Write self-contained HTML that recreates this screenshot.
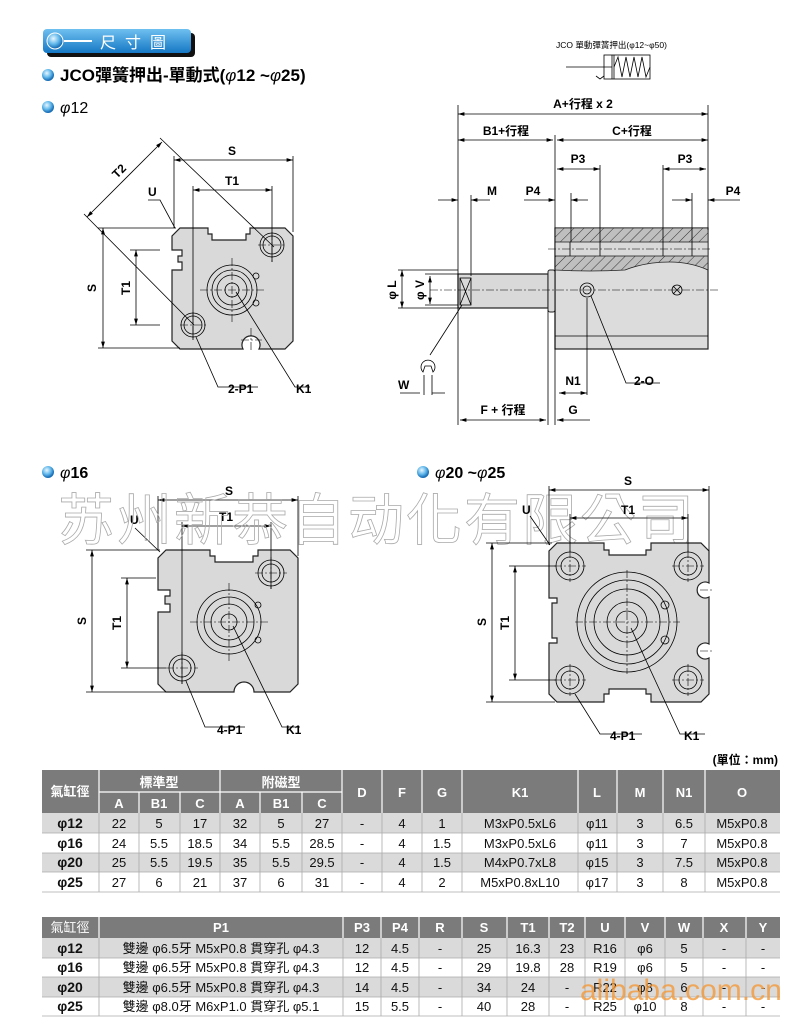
<!DOCTYPE html>
<html><head><meta charset="utf-8"><style>
body{margin:0;background:#fff;width:810px;height:1024px;overflow:hidden}
svg{display:block}
text{font-family:"Liberation Sans","Noto Sans CJK TC",sans-serif}
.b{font-weight:bold;font-size:12px}
.ln{stroke:#000;stroke-width:0.8;fill:none}
.cl{stroke:#000;stroke-width:0.6;fill:none;stroke-dasharray:8 2 2 2}
.pl{fill:#d9d9d9;stroke:#222;stroke-width:1.2}
.th{fill:#fff;font-weight:bold;font-size:13px}
.td{fill:#111;font-size:13px}
</style></head><body>
<svg width="810" height="1024" viewBox="0 0 810 1024" xmlns="http://www.w3.org/2000/svg">
<defs>
<linearGradient id="bg" x1="0" y1="0" x2="0" y2="1"><stop offset="0" stop-color="#6fc0f0"/><stop offset="1" stop-color="#1577c4"/></linearGradient>
<radialGradient id="bl" cx="0.4" cy="0.35" r="0.6"><stop offset="0" stop-color="#e8f7ff"/><stop offset="0.6" stop-color="#5fb6ea"/><stop offset="1" stop-color="#1a6fb6"/></radialGradient>
<marker id="ar" viewBox="0 0 10 6" refX="10" refY="3" markerWidth="8" markerHeight="5" orient="auto-start-reverse"><path d="M0,0 L10,3 L0,6 z" fill="#000"/></marker>
<pattern id="hat" width="7" height="7" patternUnits="userSpaceOnUse" patternTransform="rotate(45)"><rect width="7" height="7" fill="#bfbfbf"/><line x1="0" y1="0" x2="0" y2="7" stroke="#333" stroke-width="1"/></pattern>
</defs>

<rect x="47" y="33" width="148" height="24" rx="4" fill="#111"/>
<rect x="43" y="29" width="148" height="24" rx="4" fill="url(#bg)"/>
<circle cx="55" cy="41" r="8" fill="url(#bl)" stroke="#fff" stroke-width="1"/>
<line x1="64" y1="41" x2="92" y2="41" stroke="#fff" stroke-width="2"/>
<text x="100" y="48" fill="#fff" font-size="16" letter-spacing="9">尺寸圖</text>
<circle cx="48" cy="75" r="6" fill="url(#bl)"/>
<text x="60" y="81" font-size="17" font-weight="bold">JCO彈簧押出-單動式(<tspan font-weight="normal" font-style="italic">φ</tspan>12 ~<tspan font-weight="normal" font-style="italic">φ</tspan>25)</text>
<circle cx="48" cy="107" r="6" fill="url(#bl)"/>
<text x="60" y="113" font-size="16"><tspan font-style="italic">φ</tspan>12</text>

<text x="556" y="48" font-size="8.5">JCO 單動彈簧押出(φ12~φ50)</text>
<rect x="604" y="55" width="46" height="24" class="ln"/>
<line x1="612" y1="55" x2="612" y2="79" class="ln"/><line x1="614" y1="55" x2="614" y2="79" class="ln"/>
<line x1="566" y1="67" x2="612" y2="67" class="ln"/>
<path d="M614,67 L618,57 L622,77 L626,57 L630,77 L634,57 L638,77 L642,57 L646,77 L650,67" class="ln"/>
<path d="M596,76 l4,3 l4,-3" class="ln"/>

<path class="pl" d="M180,228 H208 V234 H212 V240 H246 V234 H250 V228 H285 L293,236 V341 L285,349 H259 A9,9 0 1 0 243,349 H180 L172,341 V270 H182 V262 H178 V256 H182 V250 H172 V236 Z"/>
<circle cx="272" cy="245" r="12" class="ln"/><circle cx="272" cy="245" r="9" class="ln"/>
<circle cx="193" cy="325" r="12" class="ln"/><circle cx="193" cy="325" r="9" class="ln"/>
<circle cx="232" cy="290" r="25" class="ln"/><circle cx="232" cy="290" r="20" class="ln"/><circle cx="232" cy="290" r="15" class="ln"/><circle cx="232" cy="290" r="7" class="ln"/>
<circle cx="256" cy="276" r="3" class="ln"/><circle cx="256" cy="303" r="3" class="ln"/>
<path class="cl" d="M200,290 H264 M232,258 V322 M258,245 H286 M272,232 V262 M180,325 H208 M193,312 V340 M241,340 H262 M251,328 V350"/>
<line x1="174" y1="160" x2="293" y2="160" class="ln" marker-start="url(#ar)" marker-end="url(#ar)"/>
<path class="ln" d="M174,156 V228 M293,156 V232"/>
<text x="232" y="155" class="b" text-anchor="middle">S</text>
<line x1="193" y1="190" x2="272" y2="190" class="ln" marker-start="url(#ar)" marker-end="url(#ar)"/>
<path class="ln" d="M193,186 V340 M272,186 V262"/>
<text x="232" y="185" class="b" text-anchor="middle">T1</text>
<line x1="103" y1="228" x2="103" y2="348" class="ln" marker-start="url(#ar)" marker-end="url(#ar)"/>
<path class="ln" d="M98,228 H176 M98,348 H180"/>
<text class="b" transform="translate(96,288) rotate(-90)" text-anchor="middle">S</text>
<line x1="136" y1="250" x2="136" y2="325" class="ln" marker-start="url(#ar)" marker-end="url(#ar)"/>
<path class="ln" d="M130,250 H160 M130,325 H160"/>
<text class="b" transform="translate(130,288) rotate(-90)" text-anchor="middle">T1</text>
<line x1="87" y1="217" x2="162" y2="142" class="ln" marker-start="url(#ar)" marker-end="url(#ar)"/>
<path class="ln" d="M84,214 L194,325 M160,138 L274,247"/>
<text class="b" transform="translate(122,174) rotate(-45)" text-anchor="middle">T2</text>
<text x="148" y="196" class="b">U</text>
<path class="ln" d="M148,200 H160 L175,228"/>
<path class="ln" d="M196,337 L218,387 H258"/><text x="228" y="393" class="b">2-P1</text>
<path class="ln" d="M236,292 L295,387 H310"/><text x="296" y="393" class="b">K1</text>

<rect x="555" y="228" width="153" height="121" fill="#dcdcdc" stroke="#222" stroke-width="1.2"/>
<path d="M555,228 H708 V270 Q690,262 670,262 Q645,262 625,270 Q590,272 555,270 Z" fill="url(#hat)" stroke="#222" stroke-width="0.8"/>
<rect x="555" y="242" width="153" height="14" fill="#d9d9d9" stroke="#222" stroke-width="0.8"/>
<path class="ln" d="M570,242 V256 M600,242 V256 M663,242 V256 M692,242 V256"/>
<line x1="555" y1="336" x2="708" y2="336" class="ln"/>
<rect x="458" y="274" width="90" height="34" fill="#d9d9d9" stroke="#222" stroke-width="1.2"/>
<rect x="548" y="270" width="7" height="42" rx="2" fill="#d9d9d9" stroke="#222" stroke-width="1"/>
<rect x="460" y="278" width="11" height="27" class="ln"/><path class="ln" d="M460,278 L471,305 M471,278 L460,305"/>
<circle cx="587" cy="290" r="7" class="ln"/><circle cx="587" cy="290" r="4" class="ln"/>
<circle cx="677" cy="290" r="5" class="ln"/><path class="ln" d="M673,286 L681,294 M681,286 L673,294"/>
<path class="cl" d="M430,290 H720 M548,249 H712"/>
<path class="ln" d="M458,105 V425 M555,135 V425 M708,105 V230 M548,310 V425 M587,298 V395"/>
<line x1="458" y1="114" x2="708" y2="114" class="ln" marker-start="url(#ar)" marker-end="url(#ar)"/>
<text x="583" y="108" class="b" text-anchor="middle">A+行程 x 2</text>
<line x1="458" y1="140" x2="553" y2="140" class="ln" marker-start="url(#ar)" marker-end="url(#ar)"/>
<line x1="557" y1="140" x2="708" y2="140" class="ln" marker-start="url(#ar)" marker-end="url(#ar)"/>
<text x="506" y="135" class="b" text-anchor="middle">B1+行程</text>
<text x="632" y="135" class="b" text-anchor="middle">C+行程</text>
<path class="ln" d="M600,165 V242 M663,165 V242 M571,193 V242 M692,193 V242"/>
<line x1="557" y1="169" x2="600" y2="169" class="ln" marker-start="url(#ar)" marker-end="url(#ar)"/>
<line x1="663" y1="169" x2="706" y2="169" class="ln" marker-start="url(#ar)" marker-end="url(#ar)"/>
<text x="578" y="163" class="b" text-anchor="middle">P3</text><text x="685" y="163" class="b" text-anchor="middle">P3</text>
<line x1="438" y1="200" x2="458" y2="200" class="ln" marker-end="url(#ar)"/>
<line x1="490" y1="200" x2="471" y2="200" class="ln" marker-end="url(#ar)"/><path class="ln" d="M471,195 V276"/>
<text x="492" y="195" class="b" text-anchor="middle">M</text>
<line x1="524" y1="200" x2="555" y2="200" class="ln" marker-end="url(#ar)"/>
<line x1="588" y1="200" x2="571" y2="200" class="ln" marker-end="url(#ar)"/>
<text x="533" y="195" class="b" text-anchor="middle">P4</text>
<line x1="672" y1="200" x2="692" y2="200" class="ln" marker-end="url(#ar)"/>
<line x1="740" y1="200" x2="708" y2="200" class="ln" marker-end="url(#ar)"/>
<text x="733" y="195" class="b" text-anchor="middle">P4</text>
<path class="ln" d="M398,270 H458 M398,308 H458 M425,274 H458 M425,305 H458"/>
<line x1="402" y1="270" x2="402" y2="308" class="ln" marker-start="url(#ar)" marker-end="url(#ar)"/>
<line x1="430" y1="276" x2="430" y2="304" class="ln" marker-start="url(#ar)" marker-end="url(#ar)"/>
<text class="b" transform="translate(396,290) rotate(-90)" text-anchor="middle">φ L</text>
<text class="b" transform="translate(424,290) rotate(-90)" text-anchor="middle">φ V</text>
<path class="ln" d="M462,305 L430,355"/>
<path class="ln" d="M423,372 A7,7 0 1 1 433,372 L431,366 L425,366 Z"/>
<path class="ln" d="M424,375 V395 M432,375 V395 M400,393 H420 M445,393 H432"/>
<text x="398" y="389" class="b">W</text>
<line x1="559" y1="393" x2="587" y2="393" class="ln" marker-start="url(#ar)" marker-end="url(#ar)"/>
<text x="573" y="385" class="b" text-anchor="middle">N1</text>
<path class="ln" d="M591,296 L626,383 H660"/><text x="634" y="385" class="b">2-O</text>
<line x1="460" y1="420" x2="546" y2="420" class="ln" marker-start="url(#ar)" marker-end="url(#ar)"/>
<text x="503" y="414" class="b" text-anchor="middle">F + 行程</text>
<line x1="590" y1="420" x2="557" y2="420" class="ln" marker-end="url(#ar)"/>
<text x="573" y="414" class="b" text-anchor="middle">G</text>

<circle cx="48" cy="472" r="6" fill="url(#bl)"/>
<text x="60" y="478" font-size="16" font-weight="bold"><tspan font-weight="normal" font-style="italic">φ</tspan>16</text>
<circle cx="423" cy="472" r="6" fill="url(#bl)"/>
<text x="435" y="478" font-size="16" font-weight="bold"><tspan font-weight="normal" font-style="italic">φ</tspan>20 ~<tspan font-weight="normal" font-style="italic">φ</tspan>25</text>

<path class="pl" d="M166,550 H210 V556 H215 V562 H253 V556 H258 V550 H290 L298,558 V684 L290,692 H254 A10,10 0 1 0 234,692 H166 L158,684 V612 H170 V604 H165 V596 H170 V590 H158 V558 Z"/>
<circle cx="271" cy="573" r="13" class="ln"/><circle cx="271" cy="573" r="9" class="ln"/>
<circle cx="182" cy="668" r="13" class="ln"/><circle cx="182" cy="668" r="9" class="ln"/>
<circle cx="229" cy="622" r="32" class="ln"/><circle cx="229" cy="622" r="25" class="ln"/><circle cx="229" cy="622" r="18" class="ln"/><circle cx="229" cy="622" r="8" class="ln"/>
<circle cx="258" cy="605" r="3" class="ln"/><circle cx="258" cy="640" r="3" class="ln"/>
<path class="cl" d="M190,622 H268 M229,583 V661 M255,573 H287 M271,557 V589 M166,668 H198 M182,652 V684"/>
<line x1="158" y1="500" x2="298" y2="500" class="ln" marker-start="url(#ar)" marker-end="url(#ar)"/>
<path class="ln" d="M158,496 V550 M298,496 V556"/>
<text x="229" y="495" class="b" text-anchor="middle">S</text>
<line x1="182" y1="526" x2="271" y2="526" class="ln" marker-start="url(#ar)" marker-end="url(#ar)"/>
<path class="ln" d="M182,522 V684 M271,522 V589"/>
<text x="226" y="521" class="b" text-anchor="middle">T1</text>
<line x1="92" y1="550" x2="92" y2="692" class="ln" marker-start="url(#ar)" marker-end="url(#ar)"/>
<path class="ln" d="M86,550 H160 M86,692 H166"/>
<text class="b" transform="translate(86,621) rotate(-90)" text-anchor="middle">S</text>
<line x1="127" y1="578" x2="127" y2="668" class="ln" marker-start="url(#ar)" marker-end="url(#ar)"/>
<path class="ln" d="M121,578 H156 M121,668 H166"/>
<text class="b" transform="translate(121,623) rotate(-90)" text-anchor="middle">T1</text>
<text x="130" y="524" class="b">U</text><path class="ln" d="M135,528 L160,552"/>
<path class="ln" d="M186,681 L205,727 H245"/><text x="217" y="734" class="b">4-P1</text>
<path class="ln" d="M233,626 L282,727 H300"/><text x="286" y="734" class="b">K1</text>

<text x="58" y="540" font-size="56" fill="none" stroke="#aaa" stroke-width="0.8" font-family="'Noto Serif CJK SC',serif" letter-spacing="2">苏州新恭自动化有限公司</text>

<path class="pl" d="M557,543 H604 V550 H609 V555 H646 V550 H651 V543 H701 L709,551 V583 A8,8 0 1 0 709,597 V644 A8,8 0 1 0 709,658 V694 L701,702 H651 V694 H646 V689 H609 V694 H604 V702 H557 L549,694 V643 H557 V638 H552 V603 H557 V598 H549 V551 Z"/>
<g class="ln"><circle cx="570" cy="566" r="14"/><circle cx="570" cy="566" r="9"/><circle cx="688" cy="566" r="14"/><circle cx="688" cy="566" r="9"/><circle cx="570" cy="680" r="14"/><circle cx="570" cy="680" r="9"/><circle cx="688" cy="680" r="14"/><circle cx="688" cy="680" r="9"/>
<circle cx="627" cy="622" r="50"/><circle cx="627" cy="622" r="42"/><circle cx="627" cy="622" r="33"/><circle cx="627" cy="622" r="20"/><circle cx="627" cy="622" r="11"/><circle cx="665" cy="605" r="4"/><circle cx="665" cy="640" r="4"/></g>
<path class="cl" d="M575,622 H680 M627,570 V674 M554,566 H586 M570,550 V582 M672,566 H704 M688,550 V582 M554,680 H586 M570,664 V696 M672,680 H704 M688,664 V696 M700,590 H712 M700,651 H712"/>
<line x1="549" y1="490" x2="709" y2="490" class="ln" marker-start="url(#ar)" marker-end="url(#ar)"/>
<path class="ln" d="M549,486 V545 M709,486 V551"/>
<text x="628" y="485" class="b" text-anchor="middle">S</text>
<line x1="570" y1="518" x2="688" y2="518" class="ln" marker-start="url(#ar)" marker-end="url(#ar)"/>
<path class="ln" d="M570,514 V552 M688,514 V552"/>
<text x="628" y="514" class="b" text-anchor="middle">T1</text>
<line x1="492" y1="543" x2="492" y2="702" class="ln" marker-start="url(#ar)" marker-end="url(#ar)"/>
<path class="ln" d="M486,543 H552 M486,702 H555"/>
<text class="b" transform="translate(486,622) rotate(-90)" text-anchor="middle">S</text>
<line x1="515" y1="566" x2="515" y2="680" class="ln" marker-start="url(#ar)" marker-end="url(#ar)"/>
<path class="ln" d="M509,566 H556 M509,680 H556"/>
<text class="b" transform="translate(509,623) rotate(-90)" text-anchor="middle">T1</text>
<text x="522" y="514" class="b">U</text><path class="ln" d="M530,516 L550,545"/>
<path class="ln" d="M575,694 L600,734 H642"/><text x="610" y="740" class="b">4-P1</text>
<path class="ln" d="M631,628 L680,734 H705"/><text x="684" y="740" class="b">K1</text>

<text x="778" y="764" font-size="12" font-weight="bold" text-anchor="end">(單位：mm)</text>

<rect x="42" y="770" width="738" height="43" fill="#7b7b7b"/>
<rect x="42" y="813" width="738" height="20" fill="#dadada"/>
<rect x="42" y="853" width="738" height="19" fill="#dadada"/>
<g stroke="#fff" stroke-width="1.2">
<path d="M99,770 V813 M342,770 V813 M382,770 V813 M422,770 V813 M462,770 V813 M578,770 V813 M617,770 V813 M663,770 V813 M705,770 V813 M99,792 H342 M139,792 V813 M180,792 V813 M220,770 V813 M260,792 V813 M302,792 V813"/>
</g>
<g stroke="#aaa" stroke-width="0.8"><path d="M42,833 H780 M42,853 H780 M42,872 H780 M42,892 H780 M99,813 V892 M139,813 V892 M180,813 V892 M220,813 V892 M260,813 V892 M302,813 V892 M342,813 V892 M382,813 V892 M422,813 V892 M462,813 V892 M578,813 V892 M617,813 V892 M663,813 V892 M705,813 V892"/></g>
<g class="th" text-anchor="middle">
<text x="70" y="796">氣缸徑</text><text x="159" y="787">標準型</text><text x="281" y="787">附磁型</text>
<text x="119" y="808">A</text><text x="159" y="808">B1</text><text x="200" y="808">C</text><text x="240" y="808">A</text><text x="281" y="808">B1</text><text x="322" y="808">C</text>
<text x="362" y="797">D</text><text x="402" y="797">F</text><text x="442" y="797">G</text><text x="520" y="797">K1</text><text x="597" y="797">L</text><text x="640" y="797">M</text><text x="684" y="797">N1</text><text x="742" y="797">O</text>
</g>
<g class="td" text-anchor="middle">
<text x="70" y="828" font-weight="bold" font-size="14">φ12</text><text x="119" y="828">22</text><text x="159" y="828">5</text><text x="200" y="828">17</text><text x="240" y="828">32</text><text x="281" y="828">5</text><text x="322" y="828">27</text><text x="362" y="828">-</text><text x="402" y="828">4</text><text x="442" y="828">1</text><text x="520" y="828">M3xP0.5xL6</text><text x="597" y="828">φ11</text><text x="640" y="828">3</text><text x="684" y="828">6.5</text><text x="742" y="828">M5xP0.8</text>
<text x="70" y="848" font-weight="bold" font-size="14">φ16</text><text x="119" y="848">24</text><text x="159" y="848">5.5</text><text x="200" y="848">18.5</text><text x="240" y="848">34</text><text x="281" y="848">5.5</text><text x="322" y="848">28.5</text><text x="362" y="848">-</text><text x="402" y="848">4</text><text x="442" y="848">1.5</text><text x="520" y="848">M3xP0.5xL6</text><text x="597" y="848">φ11</text><text x="640" y="848">3</text><text x="684" y="848">7</text><text x="742" y="848">M5xP0.8</text>
<text x="70" y="867" font-weight="bold" font-size="14">φ20</text><text x="119" y="867">25</text><text x="159" y="867">5.5</text><text x="200" y="867">19.5</text><text x="240" y="867">35</text><text x="281" y="867">5.5</text><text x="322" y="867">29.5</text><text x="362" y="867">-</text><text x="402" y="867">4</text><text x="442" y="867">1.5</text><text x="520" y="867">M4xP0.7xL8</text><text x="597" y="867">φ15</text><text x="640" y="867">3</text><text x="684" y="867">7.5</text><text x="742" y="867">M5xP0.8</text>
<text x="70" y="887" font-weight="bold" font-size="14">φ25</text><text x="119" y="887">27</text><text x="159" y="887">6</text><text x="200" y="887">21</text><text x="240" y="887">37</text><text x="281" y="887">6</text><text x="322" y="887">31</text><text x="362" y="887">-</text><text x="402" y="887">4</text><text x="442" y="887">2</text><text x="520" y="887">M5xP0.8xL10</text><text x="597" y="887">φ17</text><text x="640" y="887">3</text><text x="684" y="887">8</text><text x="742" y="887">M5xP0.8</text>
</g>

<rect x="42" y="917" width="738" height="21" fill="#7b7b7b"/>
<rect x="42" y="938" width="738" height="20" fill="#dadada"/>
<rect x="42" y="977" width="738" height="20" fill="#dadada"/>
<g stroke="#fff" stroke-width="1.2"><path d="M99,917 V938 M343,917 V938 M381,917 V938 M419,917 V938 M462,917 V938 M507,917 V938 M549,917 V938 M585,917 V938 M625,917 V938 M665,917 V938 M703,917 V938 M746,917 V938"/></g>
<g stroke="#aaa" stroke-width="0.8"><path d="M42,958 H780 M42,977 H780 M42,997 H780 M42,1016 H780 M99,938 V1016 M343,938 V1016 M381,938 V1016 M419,938 V1016 M462,938 V1016 M507,938 V1016 M549,938 V1016 M585,938 V1016 M625,938 V1016 M665,938 V1016 M703,938 V1016 M746,938 V1016"/></g>
<g class="th" text-anchor="middle">
<text x="70" y="932" font-weight="normal">氣缸徑</text><text x="221" y="932">P1</text><text x="362" y="932">P3</text><text x="400" y="932">P4</text><text x="440" y="932">R</text><text x="484" y="932">S</text><text x="528" y="932">T1</text><text x="567" y="932">T2</text><text x="605" y="932">U</text><text x="645" y="932">V</text><text x="684" y="932">W</text><text x="724" y="932">X</text><text x="763" y="932">Y</text>
</g>
<g class="td" text-anchor="middle">
<text x="70" y="953" font-weight="bold" font-size="14">φ12</text><text x="221" y="953">雙邊 φ6.5牙 M5xP0.8 貫穿孔 φ4.3</text><text x="362" y="953">12</text><text x="400" y="953">4.5</text><text x="440" y="953">-</text><text x="484" y="953">25</text><text x="528" y="953">16.3</text><text x="567" y="953">23</text><text x="605" y="953">R16</text><text x="645" y="953">φ6</text><text x="684" y="953">5</text><text x="724" y="953">-</text><text x="763" y="953">-</text>
<text x="70" y="972" font-weight="bold" font-size="14">φ16</text><text x="221" y="972">雙邊 φ6.5牙 M5xP0.8 貫穿孔 φ4.3</text><text x="362" y="972">12</text><text x="400" y="972">4.5</text><text x="440" y="972">-</text><text x="484" y="972">29</text><text x="528" y="972">19.8</text><text x="567" y="972">28</text><text x="605" y="972">R19</text><text x="645" y="972">φ6</text><text x="684" y="972">5</text><text x="724" y="972">-</text><text x="763" y="972">-</text>
<text x="70" y="992" font-weight="bold" font-size="14">φ20</text><text x="221" y="992">雙邊 φ6.5牙 M5xP0.8 貫穿孔 φ4.3</text><text x="362" y="992">14</text><text x="400" y="992">4.5</text><text x="440" y="992">-</text><text x="484" y="992">34</text><text x="528" y="992">24</text><text x="567" y="992">-</text><text x="605" y="992">R22</text><text x="645" y="992">φ8</text><text x="684" y="992">6</text><text x="724" y="992">-</text><text x="763" y="992">-</text>
<text x="70" y="1011" font-weight="bold" font-size="14">φ25</text><text x="221" y="1011">雙邊 φ8.0牙 M6xP1.0 貫穿孔 φ5.1</text><text x="362" y="1011">15</text><text x="400" y="1011">5.5</text><text x="440" y="1011">-</text><text x="484" y="1011">40</text><text x="528" y="1011">28</text><text x="567" y="1011">-</text><text x="605" y="1011">R25</text><text x="645" y="1011">φ10</text><text x="684" y="1011">8</text><text x="724" y="1011">-</text><text x="763" y="1011">-</text>
</g>
<text x="580" y="1000" font-size="30" fill="#f39a3a" fill-opacity="0.8">alibaba.com.cn</text>
</svg>
</body></html>
